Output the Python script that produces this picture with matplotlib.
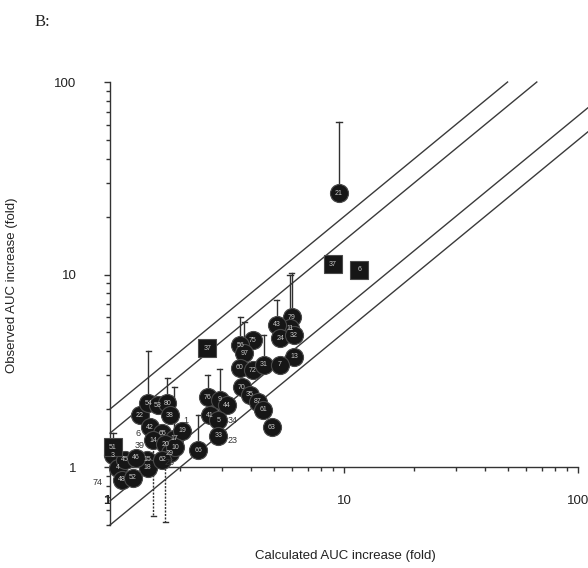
import numpy as np
import matplotlib
matplotlib.use('Agg')
import matplotlib.pyplot as plt
from matplotlib.ticker import LogLocator, NullFormatter, FixedFormatter, FixedLocator

# circles: label, calculated (x), observed (y), top of upper error bar (nan = none)
circ_lab = ['21', '79', '11', '43', '24', '32', '13', '75', '56', '97', '60', '72',
            '31', '7', '70', '35', '87', '61', '63', '76', '9', '44', '41', '5', '33',
            '66', '22', '54', '53', '80', '38', '42', '65', '17', '19', '14', '20',
            '29', '15', '18', '62', '10', '3', '4', '45', '46', '48', '52']
circ_x = [9.52, 5.99, 5.88, 5.17, 5.33, 6.11, 6.11, 4.08, 3.60, 3.75, 3.59, 4.08,
          4.55, 5.33, 3.66, 3.96, 4.29, 4.51, 4.92, 2.62, 2.95, 3.16, 2.67, 2.90, 2.90,
          2.38, 1.34, 1.46, 1.60, 1.76, 1.80, 1.48, 1.67, 1.88, 2.04, 1.53, 1.72,
          1.80, 1.44, 1.45, 1.67, 1.90, 1.03, 1.08, 1.16, 1.29, 1.125, 1.25]
circ_y = [26.5, 6.01, 5.27, 5.47, 4.68, 4.85, 3.73, 4.57, 4.30, 3.91, 3.27, 3.19,
          3.39, 3.39, 2.60, 2.37, 2.18, 1.98, 1.61, 2.31, 2.23, 2.10, 1.86, 1.75, 1.45,
          1.22, 1.86, 2.15, 2.10, 2.15, 1.86, 1.61, 1.50, 1.40, 1.54, 1.38, 1.31,
          1.18, 1.09, 0.99, 1.09, 1.27, 1.15, 0.99, 1.09, 1.12, 0.86, 0.88]
nan = np.nan
circ_top = [62, 10.2, 9.9, 7.4, nan, nan, nan, nan, 6.0, 5.66, nan, nan,
            4.85, nan, nan, nan, nan, nan, nan, 3.0, 3.25, nan, nan, nan, nan,
            1.86, nan, 4.0, nan, 2.9, nan, nan, nan, 2.6, nan, nan, nan,
            nan, nan, nan, nan, nan, nan, nan, nan, nan, nan, nan]

# squares
sq_lab = ['37', '6', '37', '51']
sq_x = [8.97, 11.6, 2.60, 1.03]
sq_y = [11.3, 10.6, 4.15, 1.27]
sq_top = [nan, nan, nan, 1.5]

# dashed lower error bars
low_x = [1.53, 1.72]
low_from = [1.38, 1.31]
low_to = [0.56, 0.52]

# loose labels
free_lab = ['74', '6', '39', '1', '25', '34', '23']
free_x = [0.88, 1.32, 1.34, 2.11, 1.80, 3.35, 3.35]
free_y = [0.83, 1.50, 1.30, 1.75, 1.05, 1.75, 1.38]

# reference lines y = k*x
ratios = [2.0, 1.5, 1 / 1.5, 0.5]

def main():
    fig = plt.figure(figsize=(5.88, 5.68), dpi=100)
    ax = fig.add_axes([0.1871, 0.0757, 0.7959, 0.7799])
    ax.set_xscale('log')
    ax.set_yscale('log')
    ax.set_xlim(1, 100)
    ax.set_ylim(0.5, 100)

    for k in ratios:
        xe = min(100.0 / k, 110.0)
        xs = np.array([1.0, xe])
        ax.plot(xs, k * xs, color='#3a3a3a', lw=1.0, clip_on=False, zorder=1)

    lc = '#303030'
    for x, y, t in zip(circ_x + sq_x, circ_y + sq_y, circ_top + sq_top):
        if not np.isnan(t):
            ax.plot([x, x], [y, t], color=lc, lw=1.0, zorder=2)
            ax.plot([x * 0.975, x * 1.025], [t, t], color=lc, lw=1.0, zorder=2)
    for x, y0, y1 in zip(low_x, low_from, low_to):
        ax.plot([x, x], [y0, y1], color=lc, lw=1.0, ls=(0, (1.5, 1)), clip_on=False, zorder=2)
        ax.plot([x * 0.975, x * 1.025], [y1, y1], color=lc, lw=1.0, clip_on=False, zorder=2)

    for lab, x, y in zip(circ_lab, circ_x, circ_y):
        ax.plot(x, y, marker='o', ms=13, mfc='#161616', mec='#4a4a4a', mew=0.8,
                zorder=3, clip_on=False)
        ax.text(x, y, lab, color='#c8c8c8', fontsize=5, ha='center', va='center',
                zorder=4, family='Liberation Sans')
    for lab, x, y in zip(sq_lab, sq_x, sq_y):
        ax.plot(x, y, marker='s', ms=13, mfc='#161616', mec='#4a4a4a', mew=0.8,
                zorder=3, clip_on=False)
        ax.text(x, y, lab, color='#c8c8c8', fontsize=5, ha='center', va='center',
                zorder=4, family='Liberation Sans')
    for lab, x, y in zip(free_lab, free_x, free_y):
        ax.text(x, y, lab, color='#333333', fontsize=6.5, ha='center', va='center',
                zorder=4, family='Liberation Sans', clip_on=False)

    # axes styling: x axis crosses at y = 1
    ax.spines['top'].set_visible(False)
    ax.spines['right'].set_visible(False)
    ax.spines['bottom'].set_position(('data', 1))
    for s in ['left', 'bottom']:
        ax.spines[s].set_color('#333333')
        ax.spines[s].set_linewidth(1.0)

    ax.xaxis.set_major_locator(FixedLocator([1, 10, 100]))
    ax.xaxis.set_major_formatter(FixedFormatter(['1', '10', '100']))
    ax.yaxis.set_major_locator(FixedLocator([1, 10, 100]))
    ax.yaxis.set_major_formatter(FixedFormatter(['1', '10', '100']))
    ax.xaxis.set_minor_locator(LogLocator(base=10, subs=np.arange(2, 10)))
    ax.yaxis.set_minor_locator(LogLocator(base=10, subs=np.arange(2, 10)))
    ax.xaxis.set_minor_formatter(NullFormatter())
    ax.yaxis.set_minor_formatter(NullFormatter())
    ax.tick_params(which='both', direction='out', color='#333333', width=1.0)
    ax.tick_params(which='major', length=4)
    ax.tick_params(which='minor', length=3)
    ax.tick_params(axis='x', which='major', pad=16, labelsize=9.5, labelcolor='#222222')
    ax.tick_params(axis='y', which='major', pad=20, labelsize=9.5, labelcolor='#222222')
    for t in ax.get_xticklabels() + ax.get_yticklabels():
        t.set_family('Liberation Sans')
    # the "1" under the x axis sits just left of the y axis
    ax.get_xticklabels()[0].set_horizontalalignment('right')
    ax.get_xticklabels()[0].set_fontweight('bold')

    fig.text(0.587, 0.022, 'Calculated AUC increase (fold)', ha='center', va='center',
             fontsize=9.5, color='#222222', family='Liberation Sans')
    fig.text(0.021, 0.498, 'Observed AUC increase (fold)', ha='center', va='center',
             rotation=90, fontsize=9.5, color='#222222', family='Liberation Sans')
    fig.text(0.058, 0.961, 'B:', ha='left', va='center', fontsize=12,
             color='#222222', family='Liberation Serif')

    fig.savefig('out.png', dpi=100)


if __name__ == "__main__":
    main()
